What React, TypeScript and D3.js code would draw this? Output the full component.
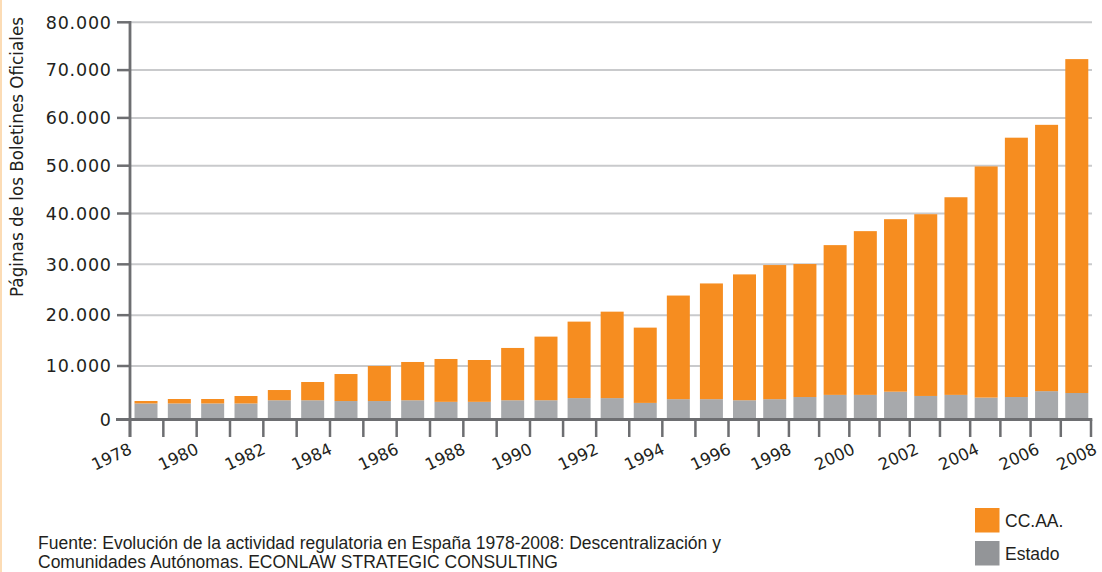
import React from 'react'
import * as d3 from 'd3'

// Páginas publicadas en boletines oficiales, 1978-2007
const years = [
  1978, 1979, 1980, 1981, 1982, 1983, 1984, 1985, 1986, 1987, 1988, 1989, 1990, 1991, 1992,
  1993, 1994, 1995, 1996, 1997, 1998, 1999, 2000, 2001, 2002, 2003, 2004, 2005, 2006, 2007,
]
const estado = [
  3000, 3000, 3000, 3000, 3600, 3600, 3450, 3450, 3600, 3300, 3300, 3600, 3600, 4000, 4000,
  3100, 3800, 3800, 3600, 3800, 4200, 4600, 4600, 5200, 4400, 4600, 4100, 4200, 5300, 4950,
]
const ccaa = [
  460, 830, 830, 1390, 1910, 3410, 5050, 6550, 7190, 8080, 7880, 9950, 12180, 14730, 16690,
  14450, 20060, 22440, 24420, 26060, 25860, 29180, 31930, 33680, 35460, 38800, 45750, 51660,
  53250, 67350,
]
const yTicks = [0, 10000, 20000, 30000, 40000, 50000, 60000, 70000, 80000]
const xLabels = [1978, 1980, 1982, 1984, 1986, 1988, 1990, 1992, 1994, 1996, 1998, 2000, 2002, 2004, 2006, 2008]
const seriesNames = ['Estado', 'CC.AA.']
const legendItems = ['CC.AA.', 'Estado']
const yTitle = 'Páginas de los Boletines Oficiales'
const sourceLines = [
  'Fuente: Evolución de la actividad regulatoria en España 1978-2008: Descentralización y',
  'Comunidades Autónomas. ECONLAW STRATEGIC CONSULTING',
]

const ORANGE = '#f68d20'
const GRAY = '#a7a9ac'
const LEGEND_GRAY = '#939598'
const AXIS = '#6d6e71'
const GRID = '#c9cacc'
const TEXT = '#231f20'

export default function App() {
  const width = 1102
  const height = 572

  // the original artwork is slightly stretched, so the scales have a few break points
  const x = d3.scaleLinear().domain([1978, 1990, 1996, 2008]).range([130, 530, 728.5, 1091])
  const y = d3.scaleLinear().domain([0, 10000, 40000, 80000]).range([419.5, 366, 213.5, 22.3])
  // year labels drift a little to the right of their ticks at the end of the axis
  const labelShift = d3.scaleLinear().domain([1978, 1998, 2002, 2006, 2008]).range([3, 3.5, 10, 10, 7]).clamp(true)

  const table = years.map((yr, i) => ({ year: yr, Estado: estado[i], 'CC.AA.': ccaa[i] }))
  const stacked = d3.stack<any>().keys(seriesNames)(table)
  const colors: Record<string, string> = { Estado: GRAY, 'CC.AA.': ORANGE }

  const barW = 23
  const allTicks = d3.range(1978, 2009)

  return (
    <svg
      width={width}
      height={height}
      style={{ position: 'absolute', left: 0, top: 0, background: '#fff' }}
      fontFamily="'Liberation Sans', Arial, sans-serif"
    >
      <rect x={0} y={0} width={2} height={height} fill="#fcdcb5" />

      {/* gridlines */}
      {yTicks.slice(1).map((t) => (
        <line key={t} x1={130} x2={1092} y1={y(t)} y2={y(t)} stroke={GRID} strokeWidth={2} />
      ))}

      {/* bars */}
      {stacked.map((s) => (
        <g key={s.key} fill={colors[s.key]}>
          {s.map((d, i) => (
            <rect
              key={i}
              x={x(years[i]) + 4.5}
              y={y(d[1])}
              width={barW}
              height={y(d[0]) - y(d[1])}
            />
          ))}
        </g>
      ))}

      {/* y axis */}
      <line x1={130} x2={130} y1={21} y2={437} stroke={AXIS} strokeWidth={2.8} />
      {yTicks.map((t) => (
        <g key={t}>
          <line x1={117} x2={130} y1={y(t)} y2={y(t)} stroke={AXIS} strokeWidth={2.5} />
          <text
            x={111.8}
            y={y(t)}
            dy="0.36em"
            textAnchor="end"
            fontFamily="'DejaVu Sans', sans-serif"
            fontSize={17.5}
            letterSpacing={0.8}
            fill={TEXT}
          >
            {d3.format(',')(t).replace(/,/g, '.')}
          </text>
        </g>
      ))}
      <text
        transform={`translate(23,${157}) rotate(-90)`}
        textAnchor="middle"
        fontFamily="'DejaVu Sans', sans-serif"
        fontSize={16.8}
        fill={TEXT}
      >
        {yTitle}
      </text>

      {/* x axis */}
      <line x1={116} x2={1092.3} y1={y(0)} y2={y(0)} stroke={AXIS} strokeWidth={2.8} />
      {allTicks.map((t) => (
        <line key={t} x1={x(t)} x2={x(t)} y1={y(0)} y2={437} stroke={AXIS} strokeWidth={2.5} />
      ))}
      {xLabels.map((t) => (
        <text
          key={t}
          transform={`translate(${x(t) + labelShift(t)},453) rotate(-25)`}
          textAnchor="end"
          fontFamily="'DejaVu Sans', sans-serif"
          fontSize={16.5}
          fill={TEXT}
        >
          {t}
        </text>
      ))}

      {/* legend */}
      {legendItems.map((name, i) => (
        <g key={name} transform={`translate(975,${508 + i * 33})`}>
          <rect width={24.5} height={24.5} fill={name === 'CC.AA.' ? ORANGE : LEGEND_GRAY} />
          <text x={30} y={19} fontSize={17.5} fill={TEXT}>
            {name}
          </text>
        </g>
      ))}

      {/* source */}
      {sourceLines.map((line, i) => (
        <text key={i} x={38} y={548.5 + i * 19.5} fontSize={17.5} fill={TEXT}>
          {line}
        </text>
      ))}
    </svg>
  )
}
